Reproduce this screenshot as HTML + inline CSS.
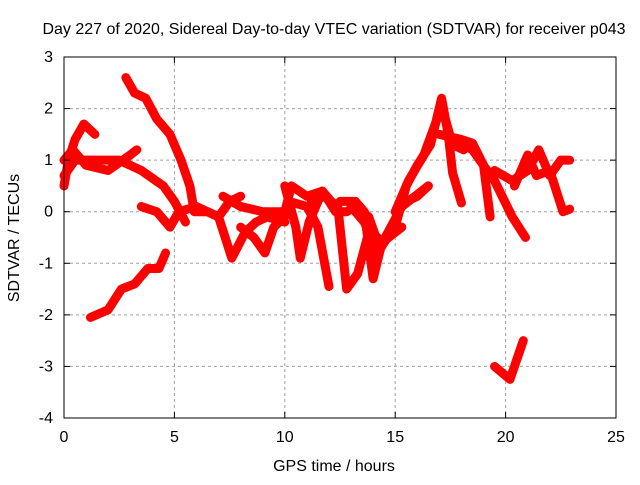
<!DOCTYPE html>
<html><head><meta charset="utf-8"><style>
body{margin:0;background:#fff}
svg text{font-family:"Liberation Sans",sans-serif;font-size:16px;fill:#000}
</style></head><body>
<svg width="640" height="480" id="chart">
<text x="334" y="34" text-anchor="middle">Day 227 of 2020, Sidereal Day-to-day VTEC variation (SDTVAR) for receiver p043</text>
<text x="334" y="471" text-anchor="middle">GPS time / hours</text>
<text transform="translate(19,238) rotate(-90)" text-anchor="middle">SDTVAR / TECUs</text>
<g id="grid"></g><g id="series"></g><g id="axes"></g>
</svg>
<script>
const xTicks=[0,5,10,15,20,25];
const yTicks=[-4,-3,-2,-1,0,1,2,3];
const trackA=[[0,0.5],[0.2,1.0],[0.5,1.4],[0.9,1.7],[1.4,1.5]];
const trackB=[[0,0.7],[0.5,1.0],[1.5,1.0],[2.5,1.0],[3.5,0.8],[4.5,0.5],[5,0.2],[5.5,-0.2]];
const trackB2=[[0,1.0],[0.4,1.2],[1,0.9],[2,0.8],[3,1.1],[3.3,1.2]];
const trackC=[[2.8,2.6],[3.2,2.3],[3.7,2.2],[4.2,1.8],[4.8,1.5],[5.3,1.0],[5.7,0.5],[5.9,0],[6.5,0],[7,-0.1],[7.5,0.2],[8,0.3]];
const trackD=[[1.2,-2.05],[2,-1.9],[2.6,-1.5],[3.2,-1.4],[3.8,-1.1],[4.3,-1.1],[4.6,-0.8]];
const trackE=[[3.5,0.1],[4.2,0],[4.8,-0.3],[5.2,0],[6,0.1],[7,-0.1],[7.6,-0.9],[8.2,-0.4],[8.7,-0.2],[9.2,-0.1],[10,-0.2]];
const trackF=[[7.2,0.3],[8,0.1],[9,0],[10,0],[10.3,0.5],[11,0.3],[11.7,0.4],[12.3,0],[12.8,0],[13.2,0.1],[13.8,-0.1],[14.3,-0.7],[14.8,-0.3],[15.3,0.1],[16.5,0.5]];
const trackG=[[8,-0.3],[8.6,-0.5],[9.1,-0.8],[9.5,-0.3],[10,-0.1]];
const trackN1=[[10,0.5],[10.5,-0.3],[10.7,-0.9],[11.1,-0.2],[11.7,0.4],[12.3,0.1]];
const trackN2=[[10.2,0.2],[11,0.1],[11.5,-0.3],[12,-1.45]];
const trackN3=[[11.2,0.2],[11.8,0.3],[12.4,0.1],[12.8,-1.5],[13.3,-1.2],[13.8,-0.4],[14.2,-0.5]];
const trackN4=[[12.5,0.2],[13.2,0.2],[13.6,0],[14,-1.3],[14.4,-0.6],[15,-0.4],[15.3,-0.3]];
const trackN5=[[13,0.1],[13.6,-0.2],[14.2,-0.8],[14.8,-0.4]];
const trackH=[[14.3,-0.7],[15,-0.3],[15.5,0.5],[16,0.9],[16.6,1.3],[17.1,2.2],[17.4,1.5],[17.6,0.75],[18,0.17]];
const trackH2=[[15,0],[15.6,0.6],[16.3,1.1],[16.9,1.8],[17.2,1.9],[17.6,1.3],[18.1,1.2]];
const trackI=[[17,1.5],[18,1.4],[18.5,1.33],[19,0.9],[19.3,-0.1]];
const trackJ=[[17.3,1.5],[18.5,1.2],[19.5,0.6],[20.3,-0.1],[20.9,-0.5]];
const trackK=[[19.5,0.8],[20.3,0.6],[21,0.8],[21.5,1.2],[22,0.7],[22.5,1.0],[22.9,1.0]];
const trackK2=[[20.4,0.5],[21,1.1],[21.4,0.7],[22,0.8],[22.6,0],[22.9,0.05]];
const trackL=[[19.5,-3.0],[20.2,-3.25],[20.8,-2.5]];
const trackM=[[15.5,0.2],[16,0.3],[16.5,0.5]];
const tracks=[trackA,trackB,trackB2,trackC,trackD,trackE,trackF,trackG,trackN1,trackN2,trackN3,trackN4,trackN5,trackH,trackH2,trackI,trackJ,trackK,trackK2,trackL,trackM];

const X0=64,X1=616,Y0=418,Y1=57;
const xs=t=>X0+(t-0)/(25-0)*(X1-X0);
const ys=v=>Y0-(v+4)/(3+4)*(Y0-Y1);
const NS="http://www.w3.org/2000/svg";
const grid=document.getElementById('grid'),axes=document.getElementById('axes'),ser=document.getElementById('series');
function mk(tag,attrs,parent){const e=document.createElementNS(NS,tag);for(const k in attrs)e.setAttribute(k,attrs[k]);parent.appendChild(e);return e;}
xTicks.forEach(t=>{
  const x=xs(t);
  if(t>0&&t<25){const g=mk('line',{x1:x,x2:x,y1:Y1,y2:Y0,stroke:'#a0a0a0','stroke-dasharray':'3,3'},grid);
  
  }
  const l=mk('text',{x:x,y:Y0+24,'text-anchor':'middle'},axes);l.textContent=t;
  
  
  mk('line',{x1:x,x2:x,y1:Y0,y2:Y0-6,stroke:'#000'},axes);
  mk('line',{x1:x,x2:x,y1:Y1,y2:Y1+6,stroke:'#000'},axes);
});
yTicks.forEach(v=>{
  const y=ys(v);
  if(v>-4&&v<3){const g=mk('line',{x1:X0,x2:X1,y1:y,y2:y,stroke:'#a0a0a0','stroke-dasharray':'3,3'},grid);
  
  }
  const l=mk('text',{x:X0-11,y:y+5,'text-anchor':'end'},axes);l.textContent=v;
  
  
  mk('line',{x1:X0,x2:X0+6,y1:y,y2:y,stroke:'#000'},axes);
  mk('line',{x1:X1,x2:X1-6,y1:y,y2:y,stroke:'#000'},axes);
});
const fr=mk('rect',{x:X0,y:Y1,width:X1-X0,height:Y0-Y1,fill:'none',stroke:'#000'},axes);


tracks.forEach(tr=>{
  const p=mk('polyline',{points:tr.map(d=>xs(d[0])+','+ys(d[1])).join(' '),fill:'none',stroke:'#ff0000','stroke-width':9,'stroke-linejoin':'round','stroke-linecap':'round'},ser);
  
  
});
</script>
</body></html>
